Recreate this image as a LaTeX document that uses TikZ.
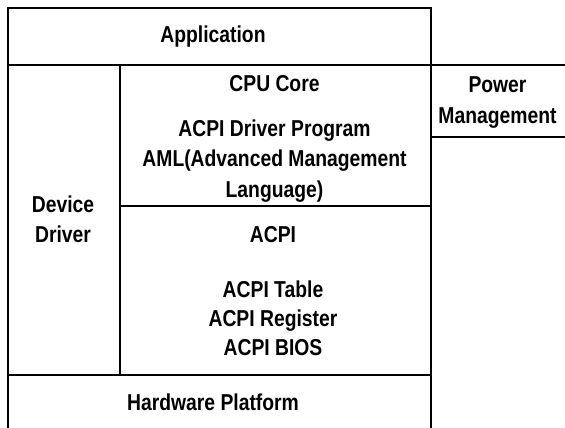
\documentclass[tikz,border=0pt]{standalone}
\usepackage{fontspec}
\newfontfamily\lblfont[FakeStretch=0.84]{Liberation Sans Bold}
\begin{document}
\begin{tikzpicture}[x=1pt,y=-1pt,
  box/.style={draw=black, line width=1.8pt, inner sep=0pt, anchor=north west, rectangle},
  lbl/.style={anchor=base, inner sep=0pt, font=\lblfont\fontsize{23}{27}\selectfont}]
\clip (0,0) rectangle (565,428);
% boxes
\node[box, minimum width=423pt, minimum height=57pt]  (app)  at (7,7)    {};
\node[box, minimum width=112pt, minimum height=310pt] (dev)  at (7,64)   {};
\node[box, minimum width=311pt, minimum height=141pt] (cpu)  at (119,64) {};
\node[box, minimum width=311pt, minimum height=169pt] (acpi) at (119,205) {};
\node[box, minimum width=423pt, minimum height=62pt]  (hw)   at (7,374)  {};
\node[box, minimum width=142pt, minimum height=72pt]  (pm)   at (430,64) {};
% labels
\node[lbl] (tapp)  at (213,43)    {Application};
\node[lbl] (tpm1)  at (497.5,92.5) {Power};
\node[lbl] (tpm2)  at (497.5,123) {Management};
\node[lbl] (tcpu1) at (274.5,92)  {CPU Core};
\node[lbl] (tcpu2) at (274.5,136) {ACPI Driver Program};
\node[lbl] (tcpu3) at (274.5,166) {AML(Advanced Management};
\node[lbl] (tcpu4) at (274.5,197) {Language)};
\node[lbl] (tdev1) at (63,212)    {Device};
\node[lbl] (tdev2) at (63,242)    {Driver};
\node[lbl] (tac1)  at (273,242)   {ACPI};
\node[lbl] (tac2)  at (273,297)   {ACPI Table};
\node[lbl] (tac3)  at (273,326)   {ACPI Register};
\node[lbl] (tac4)  at (273,355)   {ACPI BIOS};
\node[lbl] (thw)   at (213,410)   {Hardware Platform};
\end{tikzpicture}
\end{document}
